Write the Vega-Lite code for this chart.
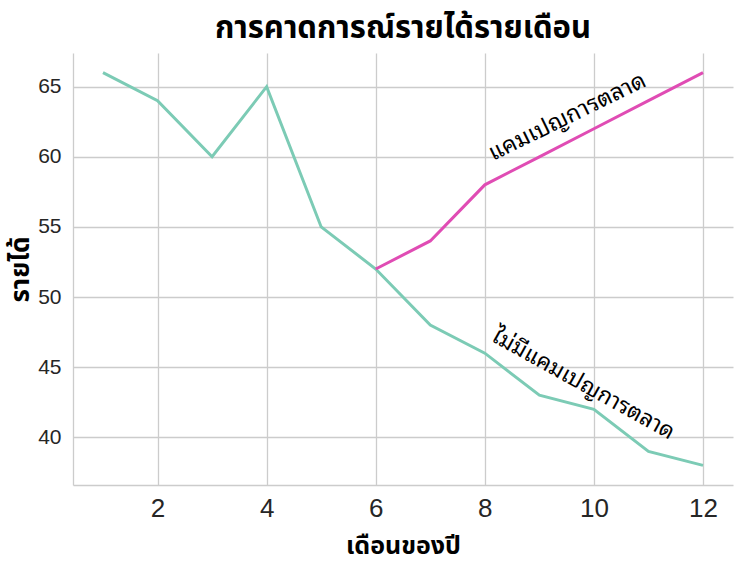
{
  "$schema": "https://vega.github.io/schema/vega-lite/v6.json",
  "autosize": {"type": "none"},
  "padding": {"left": 73, "top": 53, "right": 22, "bottom": 79},
  "width": 660,
  "height": 432,
  "background": "white",
  "title": {
    "text": "การคาดการณ์รายได้รายเดือน",
    "font": "Noto Sans Thai, Noto Sans, sans-serif",
    "fontSize": 31,
    "fontWeight": "bold",
    "color": "black",
    "anchor": "middle",
    "offset": 8
  },
  "config": {
    "view": {"stroke": null},
    "axis": {
      "grid": true,
      "gridColor": "#cccccc",
      "gridWidth": 1.3,
      "domainColor": "#cccccc",
      "domainWidth": 1.3,
      "ticks": false,
      "labelFont": "Liberation Sans, Arial, sans-serif",
      "labelColor": "#262626",
      "titleFont": "Noto Sans Thai, Noto Sans, sans-serif",
      "titleFontWeight": "bold",
      "titleColor": "black"
    }
  },
  "datasets": {
    "revenue": [
      {"month": 1, "revenue": 66, "scenario": "no"},
      {"month": 2, "revenue": 64, "scenario": "no"},
      {"month": 3, "revenue": 60, "scenario": "no"},
      {"month": 4, "revenue": 65, "scenario": "no"},
      {"month": 5, "revenue": 55, "scenario": "no"},
      {"month": 6, "revenue": 52, "scenario": "no"},
      {"month": 7, "revenue": 48, "scenario": "no"},
      {"month": 8, "revenue": 46, "scenario": "no"},
      {"month": 9, "revenue": 43, "scenario": "no"},
      {"month": 10, "revenue": 42, "scenario": "no"},
      {"month": 11, "revenue": 39, "scenario": "no"},
      {"month": 12, "revenue": 38, "scenario": "no"},
      {"month": 6, "revenue": 52, "scenario": "campaign"},
      {"month": 7, "revenue": 54, "scenario": "campaign"},
      {"month": 8, "revenue": 58, "scenario": "campaign"},
      {"month": 9, "revenue": 60, "scenario": "campaign"},
      {"month": 10, "revenue": 62, "scenario": "campaign"},
      {"month": 11, "revenue": 64, "scenario": "campaign"},
      {"month": 12, "revenue": 66, "scenario": "campaign"}
    ]
  },
  "layer": [
    {
      "data": {"name": "revenue"},
      "mark": {"type": "line", "strokeWidth": 3},
      "encoding": {
        "x": {
          "field": "month",
          "type": "quantitative",
          "scale": {"domain": [0.45, 12.55], "nice": false, "zero": false},
          "axis": {
            "title": "เดือนของปี",
            "titleFontSize": 25,
            "titlePadding": 12,
            "labelFontSize": 26,
            "labelPadding": 10,
            "values": [2, 4, 6, 8, 10, 12]
          }
        },
        "y": {
          "field": "revenue",
          "type": "quantitative",
          "scale": {"domain": [36.6, 67.4], "nice": false, "zero": false},
          "axis": {
            "title": "รายได้",
            "titleFontSize": 26,
            "titlePadding": 4,
            "labelFontSize": 21,
            "labelPadding": 12,
            "values": [40, 45, 50, 55, 60, 65]
          }
        },
        "color": {
          "field": "scenario",
          "type": "nominal",
          "scale": {"domain": ["no", "campaign"], "range": ["#7ccbb5", "#e04cb4"]},
          "legend": null
        }
      }
    },
    {
      "data": {"values": [{"month": 8.15, "revenue": 59.7, "label": "แคมเปญการตลาด"}]},
      "mark": {"type": "text", "angle": -26, "align": "left", "baseline": "alphabetic", "fontSize": 23, "font": "Noto Sans Thai Looped, Noto Sans Thai, Noto Sans, sans-serif", "color": "black"},
      "encoding": {
        "x": {"field": "month", "type": "quantitative"},
        "y": {"field": "revenue", "type": "quantitative"},
        "text": {"field": "label"}
      }
    },
    {
      "data": {"values": [{"month": 8.1, "revenue": 46.9, "label": "ไม่มีแคมเปญการตลาด"}]},
      "mark": {"type": "text", "angle": 29, "align": "left", "baseline": "alphabetic", "fontSize": 22.5, "font": "Noto Sans Thai Looped, Noto Sans Thai, Noto Sans, sans-serif", "color": "black"},
      "encoding": {
        "x": {"field": "month", "type": "quantitative"},
        "y": {"field": "revenue", "type": "quantitative"},
        "text": {"field": "label"}
      }
    }
  ]
}
